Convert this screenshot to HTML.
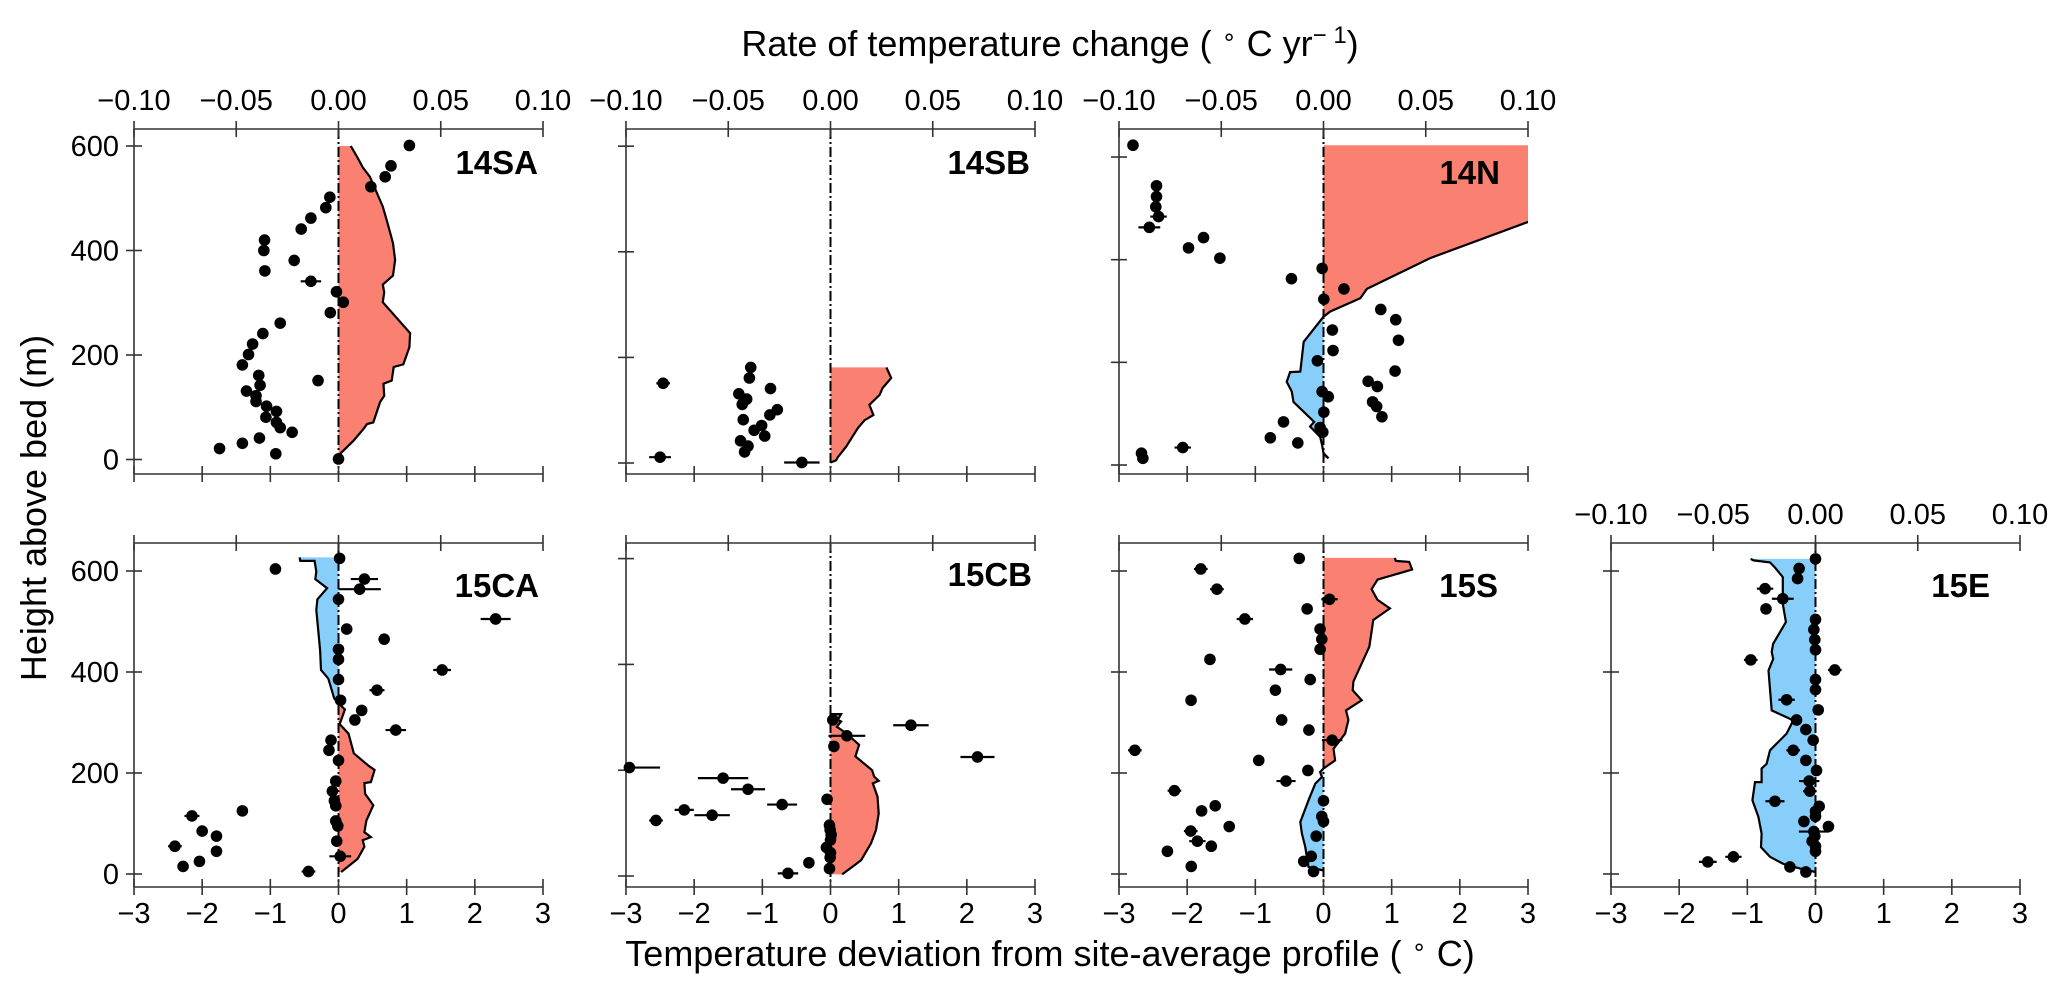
<!DOCTYPE html>
<html><head><meta charset="utf-8"><style>
html,body{margin:0;padding:0;background:#fff;}
svg{display:block;font-family:"Liberation Sans",Arial,sans-serif;}
</style></head><body>
<svg id="fig" width="2067" height="990" viewBox="0 0 2067 990" xmlns="http://www.w3.org/2000/svg">
<text x="1050" y="56" font-size="36" text-anchor="middle">Rate of temperature change ( <tspan font-size="24" dy="-11">∘</tspan><tspan dy="11"> C yr</tspan><tspan font-size="24" dy="-13">− 1</tspan><tspan dy="13">)</tspan></text>
<text x="1050" y="966" font-size="36" text-anchor="middle">Temperature deviation from site-average profile ( <tspan font-size="24" dy="-11">∘</tspan><tspan dy="11"> C)</tspan></text>
<text x="0" y="0" font-size="36" text-anchor="middle" transform="translate(46,508) rotate(-90)">Height above bed (m)</text>
</svg>
<script>
// ---- data: 14SA ----
const saT=[1.04,0.77,0.685,0.475,-0.127,-0.186,-0.405,-0.547,-1.085,-1.095,-0.65,-1.08,-0.405,-0.03,0.07,-0.12,-0.855,-1.11,-1.26,-1.32,-1.41,-1.17,-1.15,-1.35,-1.21,-1.21,-1.055,-0.91,-1.065,-0.91,-0.855,-0.68,-0.30,-1.16,-1.41,-1.745,-0.92,0];
const saH=[601,562,541,522,502,482,462,441,420,400,381,361,341,321,301,281,261,241,221,201,181,161,142,131,122,111,102,92,81,71,61,52,151,41,31,21,11,1];
const saE=[0,0,0,0,0,0,0,0,0,0,0,0,0.15,0,0,0,0,0,0,0,0,0,0,0,0,0,0,0,0,0,0,0,0,0,0,0,0,0];
const saPT=[0,0.024,0.22,0.37,0.42,0.51,0.61,0.67,0.66,0.78,0.81,0.95,1.04,1.05,0.65,0.67,0.65,0.8,0.83,0.8,0.72,0.65,0.46,0.357,0.27,0.18];
const saPH=[0,11,36,59,68,71,110,122,145,151,177,182,215,242,301,320,335,352,382,414,452,484,541,559,580,600];
// ---- data: 14SB ----
const sbT=[-2.455,-2.50,-0.42,-1.17,-1.19,-0.88,-1.345,-1.23,-1.295,-0.78,-0.89,-1.28,-1.01,-1.12,-0.965,-1.32,-1.21,-1.26];
const sbH=[151,11,1,181,161,141,131,121,111,101,91,82,71,62,51,42,32,21];
const sbE=[0.1,0.16,0.26,0,0,0,0,0,0,0,0,0,0,0,0,0,0,0];
const sbPT=[0,0.08,0.107,0.23,0.40,0.50,0.63,0.57,0.72,0.765,0.89,0.82];
const sbPH=[1,5,11,31,66,81,91,110,129,142,161,181];
// ---- data: 14N ----
const nT=[-2.795,-2.45,-2.45,-2.46,-2.42,-2.555,-1.76,-1.98,-1.52,-0.47,-0.02,0.30,0.005,0.84,1.06,0.13,1.10,0.14,-0.09,1.05,0.655,0.79,-0.02,0.07,0.72,0.78,0.005,0.857,-0.587,-0.05,-0.01,-0.78,-0.377,-2.065,-2.67,-2.65];
const nH=[623,544,523,503,484,463,443,423,403,363,383,343,323,303,283,263,243,223,203,183,163,153,143,133,123,114,103,94,84,73,64,53,43,34,23,13];
const nE=[0,0,0,0,0.12,0.16,0,0.05,0,0.07,0,0,0,0,0,0,0,0,0,0,0,0,0,0,0,0,0,0,0,0,0,0,0,0.12,0,0];
const nPT=[0.073,0,-0.02,-0.05,-0.196,-0.137,-0.44,-0.465,-0.54,-0.49,-0.34,-0.29,0,0.1,0.54,0.636,1.566,3.01,4.5,6,6];
const nPH=[13,23,39,55,75,84,123,143,162,181,182,240,289,299,325,343,403,474,560,615,623];
// ---- data: 15CA ----
const caT=[0.016,-0.925,0.38,0.31,0,2.305,0.12,0.67,0,0,1.52,0,0.565,0.03,0.34,0.24,0.84,-0.11,-0.14,0,-0.04,-0.09,-0.06,-0.04,-0.04,-0.01,-1.41,-2.15,-2.0,-1.79,-2.40,-1.79,-2.04,-2.28,-0.026,0.026,-0.44];
const caH=[625,604,584,564,544,505,485,465,445,425,404,385,364,344,324,305,285,265,245,225,184,164,145,135,105,95,125,115,85,75,55,45,25,15,65,35,5];
const caE=[0,0.05,0.2,0.31,0,0.22,0,0,0,0,0.13,0,0.11,0,0,0,0.15,0,0,0,0,0,0,0,0,0,0,0.11,0,0,0.1,0,0,0,0,0.16,0.1];
const caPT=[-0.57,-0.56,-0.35,-0.325,-0.34,-0.167,-0.31,-0.325,-0.27,-0.256,-0.15,-0.063,0,0.094,0.04,0.016,0.146,0.225,0.434,0.53,0.475,0.38,0.39,0.51,0.41,0.38,0.475,0.355,0.38,0.28,0.04];
const caPH=[627,620,620,599,584,566,544,523,443,404,387,348,338,326,305,297,278,239,215,206,182,180,159,136,106,83,73,67,54,30,4];
// ---- data: 15CB ----
const cbT=[0.034,1.18,0.24,0.05,2.156,-2.95,-1.576,-1.21,-0.71,-0.05,-2.146,-1.737,-2.56,-0.015,-0.005,0.01,0,-0.06,0,-0.005,-0.317,-0.015,-0.624];
const cbH=[295,285,265,245,225,205,185,164,135,145,125,115,105,96,87,78,68,54,44,35,25,14,5];
const cbE=[0,0.26,0.27,0,0.25,0.45,0.37,0.25,0.22,0,0.14,0.26,0.1,0,0,0,0,0,0,0,0,0,0.15];
const cbPT=[0,0.156,0.107,0.156,0.093,0.23,0.42,0.366,0.61,0.64,0.707,0.62,0.69,0.707,0.668,0.595,0.45,0.327,0.17];
const cbPH=[306,306,295,292,282,270,248,226,200,188,180,175,150,118,87,62,30,18,3];
// ---- data: 15S ----
const sT=[-0.356,-1.80,-1.563,0.088,-0.24,-1.154,-0.05,-0.025,-0.05,-1.666,-0.628,-0.195,-0.706,-1.943,-0.614,-0.214,0.127,-2.767,-0.95,-0.229,-0.55,-2.187,0,-1.588,-1.788,-0.025,0,-1.383,-1.948,-0.107,-1.85,-1.646,-2.29,-0.18,-0.29,-1.94,-0.146];
const sH=[625,604,564,544,525,505,485,465,445,425,405,385,364,344,305,285,265,245,225,205,184,165,145,135,125,114,104,94,85,75,65,55,45,35,25,15,5];
const sE=[0,0.1,0.1,0.12,0,0.12,0,0,0,0.08,0.17,0,0.08,0,0.08,0,0.15,0.1,0.08,0,0.14,0.1,0,0,0,0,0,0,0.1,0,0.12,0,0.08,0,0,0,0];
const sPT=[1.047,1.06,1.257,1.30,0.794,0.706,0.79,0.974,0.73,0.672,0.438,0.428,0.56,0.33,0.365,0.317,0.146,0.17,0,-0.05,-0.024,-0.12,-0.22,-0.34,-0.317,-0.268,-0.22,0];
const sPH=[626,620,618,603,583,564,543,526,503,450,381,364,344,324,305,278,248,225,209,202,192,179,146,103,80,54,14,7];
// ---- data: 15E ----
const eT=[0,-0.24,-0.263,-0.74,-0.48,-0.726,0,-0.024,-0.01,0,-0.95,0.283,0,0,-0.424,0.04,-0.278,-0.141,-0.034,-0.327,-0.141,0.015,-0.093,-0.083,-0.595,0.054,0,0,-0.17,0.19,-0.024,-0.01,-0.05,0,0,-1.204,-1.58,-0.375,-0.141];
const eH=[624,605,585,565,545,525,504,484,464,444,424,404,385,365,345,325,305,286,265,245,225,205,184,164,144,134,124,114,104,94,84,75,65,55,45,34,24,14,4];
const eE=[0,0,0,0.12,0.16,0.08,0,0,0,0,0.1,0.1,0,0,0.12,0,0,0,0,0.1,0,0,0.15,0.1,0.14,0,0,0,0,0,0.22,0,0,0,0,0.12,0.13,0,0];
const ePT=[-0.95,-0.91,-0.668,-0.595,-0.48,-0.48,-0.434,-0.62,-0.643,-0.62,-0.69,-0.643,-0.385,-0.327,-0.424,-0.668,-0.717,-0.79,-0.79,-0.887,-0.926,-0.838,-0.79,-0.8,-0.668,-0.473,-0.23,0];
const ePH=[624,621,617,607,588,535,499,456,440,426,403,324,308,304,278,245,218,209,182,182,146,113,80,53,34,20,11,4];
// ---- tick labels ----
const xTicks=[-3,-2,-1,0,1,2,3];
const xTickLabels=['−3','−2','−1','0','1','2','3'];
const rateTicks=[-0.10,-0.05,0,0.05,0.10];
const rateTickLabels=['−0.10','−0.05','0.00','0.05','0.10'];
const yTicks=[0,200,400,600];
const yTickLabels=['0','200','400','600'];

const NS='http://www.w3.org/2000/svg';
const svg=document.getElementById('fig');
const W=409, KX=W/6;
const layout=[
 {id:'14sa',name:'14SA',left:134,top:129,bottom:474,y0:459.5,ky:0.5225,lx:538,ly:162,yl:true,tl:true,bl:false,T:saT,H:saH,E:saE,PT:saPT,PH:saPH},
 {id:'14sb',name:'14SB',left:626,top:129,bottom:474,y0:463,ky:0.528,lx:1030,ly:162,yl:false,tl:true,bl:false,T:sbT,H:sbH,E:sbE,PT:sbPT,PH:sbPH},
 {id:'14n',name:'14N',left:1119,top:129,bottom:474,y0:465,ky:0.5133,lx:1500,ly:172,yl:false,tl:true,bl:false,T:nT,H:nH,E:nE,PT:nPT,PH:nPH},
 {id:'15ca',name:'15CA',left:134,top:543,bottom:887,y0:874,ky:0.505,lx:539,ly:585,yl:true,tl:false,bl:true,T:caT,H:caH,E:caE,PT:caPT,PH:caPH},
 {id:'15cb',name:'15CB',left:626,top:543,bottom:887,y0:876,ky:0.529,lx:1032,ly:574,yl:false,tl:false,bl:true,T:cbT,H:cbH,E:cbE,PT:cbPT,PH:cbPH},
 {id:'15s',name:'15S',left:1119,top:543,bottom:887,y0:874,ky:0.505,lx:1498,ly:585,yl:false,tl:false,bl:true,T:sT,H:sH,E:sE,PT:sPT,PH:sPH},
 {id:'15e',name:'15E',left:1611,top:543,bottom:887,y0:874,ky:0.505,lx:1990,ly:585,yl:false,tl:true,bl:true,T:eT,H:eH,E:eE,PT:ePT,PH:ePH}
];
function el(tag,parent,attrs){const e=document.createElementNS(NS,tag);for(const k in attrs)e.setAttribute(k,attrs[k]);parent.appendChild(e);return e;}
const defs=el('defs',svg,{});
layout.forEach(p=>{
  const xs=t=>p.left+(t+3)*KX;
  const ys=h=>p.y0-h*p.ky;
  const xr=t=>xs(t*30);
  const g=el('g',svg,{});
  
  
  const cp=el('clipPath',defs,{id:'c-'+p.id});el('rect',cp,{x:p.left,y:p.top,width:W,height:p.bottom-p.top});
  const cpp=el('clipPath',defs,{id:'cp-'+p.id});el('rect',cpp,{x:xs(0),y:p.top,width:p.left+W-xs(0),height:p.bottom-p.top});
  const cpn=el('clipPath',defs,{id:'cn-'+p.id});el('rect',cpn,{x:p.left,y:p.top,width:xs(0)-p.left,height:p.bottom-p.top});
  let pts=p.PT.map((t,i)=>xs(t).toFixed(1)+','+ys(p.PH[i]).toFixed(1));
  const n=p.PT.length;
  const poly=pts.join(' ')+' '+xs(0)+','+ys(p.PH[n-1]).toFixed(1)+' '+xs(0)+','+ys(p.PH[0]).toFixed(1);
  const red=el('polygon',g,{points:poly,fill:'#fa8072','clip-path':'url(#cp-'+p.id+')'});
  
  
  const blue=el('polygon',g,{points:poly,fill:'#87cefa','clip-path':'url(#cn-'+p.id+')'});
  
  
  const line=el('polyline',g,{points:pts.join(' '),fill:'none',stroke:'#000','stroke-width':2.2,'clip-path':'url(#c-'+p.id+')'});
  
  
  const z=el('line',g,{x1:xs(0),x2:xs(0),y1:p.top,y2:p.bottom,stroke:'#000','stroke-width':2,'stroke-dasharray':'10,3,2,3'});
  
  
  const ax={stroke:'#333','stroke-width':1.6};
  const sl=el('line',g,Object.assign({x1:p.left,x2:p.left,y1:p.top,y2:p.bottom},ax));
  
  
  const st=el('line',g,Object.assign({x1:p.left,x2:p.left+W,y1:p.top,y2:p.top},ax));
  
  
  const sb=el('line',g,Object.assign({x1:p.left,x2:p.left+W,y1:p.bottom,y2:p.bottom},ax));
  
  
  rateTicks.forEach((r,i)=>{
    el('line',g,Object.assign({x1:xr(r),x2:xr(r),y1:p.top-8,y2:p.top+8},ax));
    if(p.tl){const t=el('text',g,{x:xr(r),y:p.top-19,'font-size':29,'text-anchor':'middle'});t.textContent=rateTickLabels[i];
      
      }
  });
  xTicks.forEach((v,i)=>{
    el('line',g,Object.assign({x1:xs(v),x2:xs(v),y1:p.bottom-8,y2:p.bottom+8},ax));
    if(p.bl){const t=el('text',g,{x:xs(v),y:p.bottom+36,'font-size':29,'text-anchor':'middle'});t.textContent=xTickLabels[i];
      
      }
  });
  yTicks.forEach((v,i)=>{
    el('line',g,Object.assign({x1:p.left-8,x2:p.left+8,y1:ys(v),y2:ys(v)},ax));
    if(p.yl){const t=el('text',g,{x:p.left-15,y:ys(v)+10,'font-size':29,'text-anchor':'end'});t.textContent=yTickLabels[i];
      
      }
  });
  p.T.forEach((t,i)=>{
    const cx=xs(t),cy=ys(p.H[i]);
    if(p.E[i]>0){const eb=el('line',g,{x1:xs(t-p.E[i]),x2:xs(t+p.E[i]),y1:cy,y2:cy,stroke:'#000','stroke-width':2.2,'clip-path':'url(#c-'+p.id+')'});
      
      }
    const c=el('circle',g,{cx:cx,cy:cy,r:5.8,fill:'#000'});
    
    
  });
  const lb=el('text',g,{x:p.lx,y:p.ly+12,'font-size':33,'font-weight':'bold','text-anchor':'end'});
  lb.textContent=p.name;
  
  
});
</script>
</body></html>
